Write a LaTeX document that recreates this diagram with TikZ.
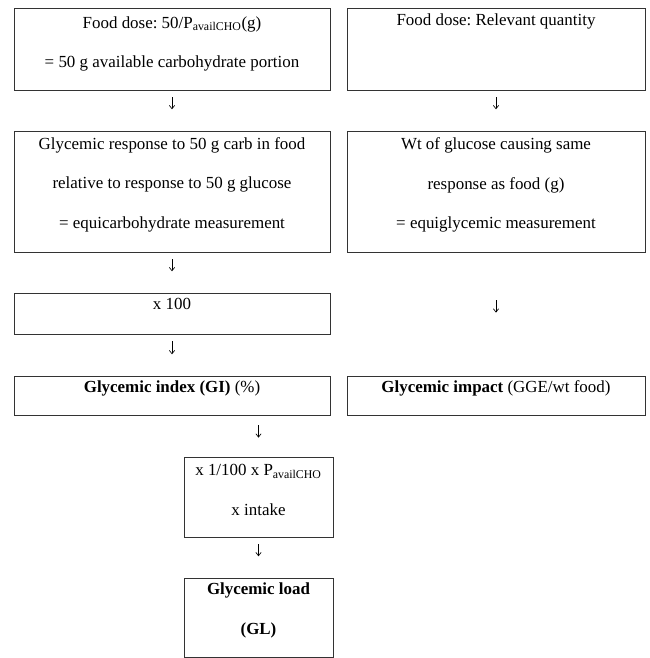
\documentclass[tikz,border=0pt]{standalone}
\usepackage{fontspec}
\setmainfont{Liberation Serif}
\frenchspacing
\usetikzlibrary{arrows.meta}
\tikzset{
    box/.style={draw=black!80, line width=0.6pt, minimum width=237pt, inner sep=0pt},
    txt/.style={anchor=base, align=center, font=\fontsize{12.7pt}{29.6pt}\selectfont},
    arr/.style={-{Straight Barb[length=2.5pt,width=4pt]}, line width=0.5pt, shorten <=5pt, shorten >=16pt}
}
\begin{document}
\begin{tikzpicture}[x=0.75pt, y=-0.75pt]
        \useasboundingbox (0,0) rectangle (650,658);
        \node[box, minimum height=61.5pt] (food1) at (172,49) {};
        \node[box, minimum height=90.75pt] (resp1) at (172,191.5) {};
        \node[box, minimum height=30.75pt] (times) at (172,313.5) {};
        \node[box, minimum height=29.25pt] (gi) at (172,395.5) {};
        \node[box, minimum width=111.75pt, minimum height=60pt] (scale) at (258.5,497) {};
        \node[box, minimum width=111.75pt, minimum height=59.25pt] (gl) at (258.5,617.5) {};
        \node[box, minimum width=223.5pt, minimum height=61.5pt] (food2) at (496,49) {};
        \node[box, minimum width=223.5pt, minimum height=90.75pt] (resp2) at (496,191.5) {};
        \node[box, minimum width=223.5pt, minimum height=29.25pt] (impact) at (496,395.5) {};
        \node[txt] (food1t) at ([yshift=-45pt]food1.north) {Food dose: 50/P\textsubscript{availCHO}(g)\\= 50 g available carbohydrate portion};
        \node[txt] (resp1t) at ([yshift=-73.2pt]resp1.north) {Glycemic response to 50 g carb in food\\relative to response to 50 g glucose\\= equicarbohydrate measurement};
        \node[txt] (timest) at ([yshift=-13pt]times.north) {x 100};
        \node[txt] (git) at ([yshift=-12.5pt]gi.north) {\textbf{Glycemic index (GI)} (\%)};
        \node[txt] (scalet) at ([yshift=-44pt]scale.north) {x 1/100 x P\textsubscript{availCHO}\\x intake};
        \node[txt] (glt) at ([yshift=-42.6pt]gl.north) {\textbf{Glycemic load}\\\textbf{(GL)}};
        \node[txt] (food2t) at ([yshift=-13.5pt]food2.north) {Food dose: Relevant quantity};
        \node[txt] (resp2t) at ([yshift=-73.7pt]resp2.north) {Wt of glucose causing same\\response as food (g)\\= equiglycemic measurement};
        \node[txt] (impactt) at ([yshift=-12.5pt]impact.north) {\textbf{Glycemic impact} (GGE/wt food)};
        \draw[arr] (food1) -- (resp1);
        \draw[arr] (resp1) -- (times);
        \draw[arr] (times) -- (gi);
        \draw[arr, shorten <=7.5pt, shorten >=14.25pt] (scale.north |- gi.south) -- (scale.north);
        \draw[arr] (scale) -- (gl);
        \draw[arr] (food2) -- (resp2);
        \draw[arr, shorten <=36pt, shorten >=47.25pt] (resp2) -- (impact);
\end{tikzpicture}
\end{document}
